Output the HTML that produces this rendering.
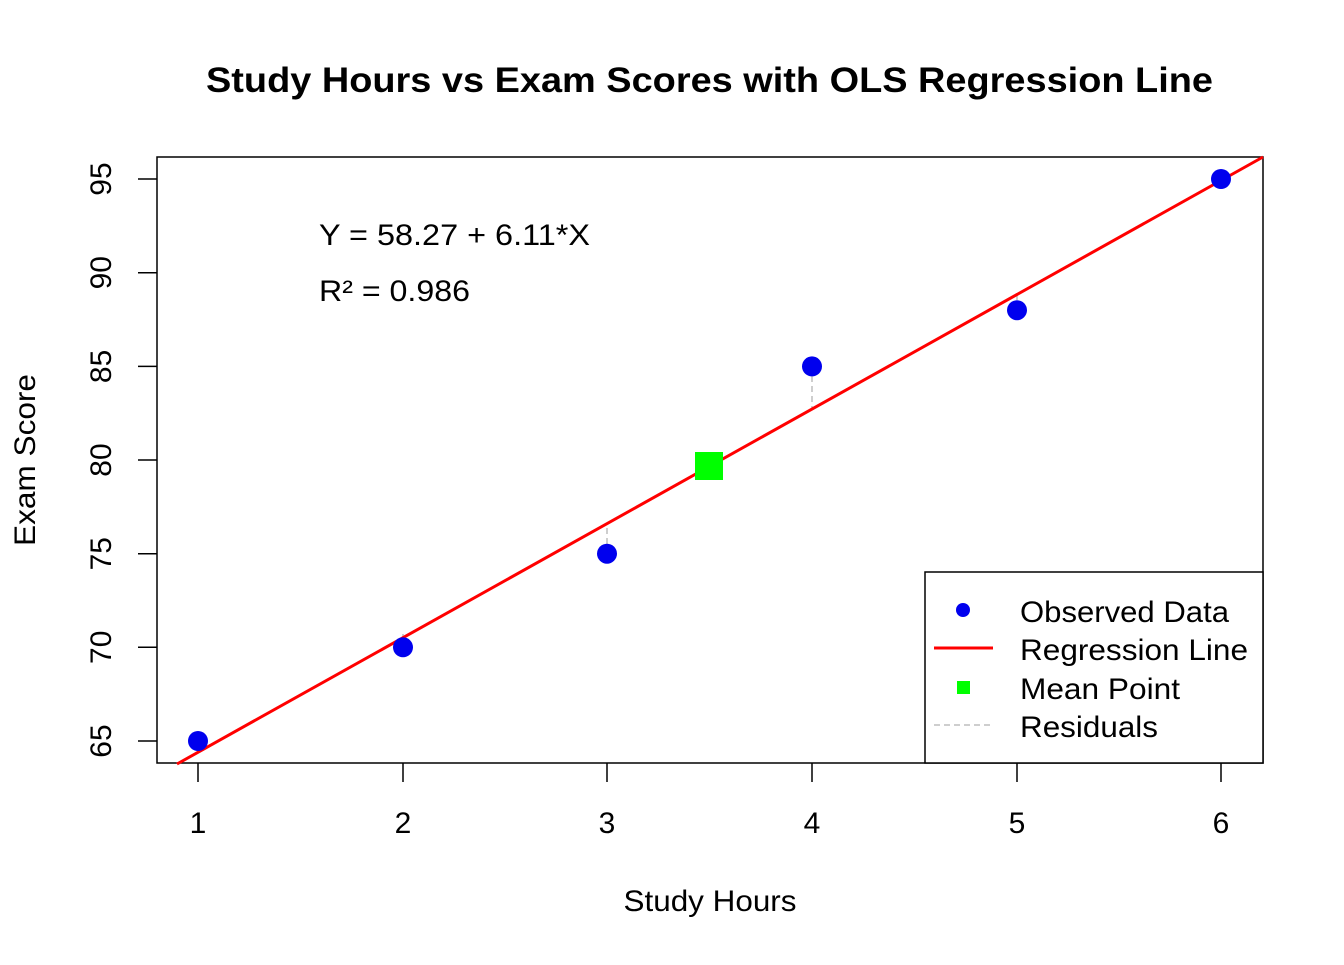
<!DOCTYPE html>
<html><head><meta charset="utf-8"><style>body{margin:0;background:#fff}</style></head><body>
<svg width="1344" height="960" xmlns="http://www.w3.org/2000/svg" font-family="Liberation Sans, Arial, sans-serif">
<rect width="1344" height="960" fill="#fff"/>
<text x="206" y="92" font-size="35" font-weight="bold" textLength="1007" lengthAdjust="spacingAndGlyphs">Study Hours vs Exam Scores with OLS Regression Line</text>
<rect x="157" y="157" width="1106" height="606" fill="none" stroke="#000" stroke-width="1.5"/>
<g stroke="#000" stroke-width="1.5">
<line x1="198" y1="763" x2="198" y2="782"/><line x1="403" y1="763" x2="403" y2="782"/><line x1="607" y1="763" x2="607" y2="782"/><line x1="812" y1="763" x2="812" y2="782"/><line x1="1017" y1="763" x2="1017" y2="782"/><line x1="1221" y1="763" x2="1221" y2="782"/>
<line x1="157" y1="741" x2="138" y2="741"/><line x1="157" y1="647.3" x2="138" y2="647.3"/><line x1="157" y1="553.7" x2="138" y2="553.7"/><line x1="157" y1="460" x2="138" y2="460"/><line x1="157" y1="366.4" x2="138" y2="366.4"/><line x1="157" y1="272.7" x2="138" y2="272.7"/><line x1="157" y1="179" x2="138" y2="179"/>
</g>
<g font-size="30" text-anchor="middle">
<text x="198" y="833">1</text><text x="403" y="833">2</text><text x="607" y="833">3</text><text x="812" y="833">4</text><text x="1017" y="833">5</text><text x="1221" y="833">6</text>
<text x="710" y="911" textLength="173" lengthAdjust="spacingAndGlyphs">Study Hours</text>
</g>
<g font-size="30" text-anchor="middle">
<text transform="translate(111,741) rotate(-90)">65</text>
<text transform="translate(111,647.3) rotate(-90)">70</text>
<text transform="translate(111,553.7) rotate(-90)">75</text>
<text transform="translate(111,460) rotate(-90)">80</text>
<text transform="translate(111,366.4) rotate(-90)">85</text>
<text transform="translate(111,272.7) rotate(-90)">90</text>
<text transform="translate(111,179) rotate(-90)">95</text>
<text transform="translate(35,460) rotate(-90)" textLength="172" lengthAdjust="spacingAndGlyphs">Exam Score</text>
</g>
<g stroke="#bebebe" stroke-width="1.5" stroke-dasharray="6,4">
<line x1="198" y1="741" x2="198" y2="748"/>
<line x1="403" y1="647" x2="403" y2="634"/>
<line x1="607" y1="554" x2="607" y2="528"/>
<line x1="812" y1="366" x2="812" y2="409"/>
<line x1="1017" y1="310" x2="1017" y2="295"/>
</g>
<line x1="177" y1="764" x2="1263" y2="157" stroke="#f00" stroke-width="3"/>
<g fill="#0000ee">
<circle cx="198" cy="741" r="10"/><circle cx="403" cy="647.3" r="10"/><circle cx="607" cy="553.7" r="10"/><circle cx="812" cy="366.4" r="10"/><circle cx="1017" cy="310.2" r="10"/><circle cx="1221" cy="179" r="10"/>
</g>
<rect x="695" y="452" width="28" height="28" fill="#00ff00"/>
<text x="319" y="245" font-size="30" textLength="271" lengthAdjust="spacingAndGlyphs">Y = 58.27 + 6.11*X</text>
<text x="319" y="301" font-size="30" textLength="151" lengthAdjust="spacingAndGlyphs">R² = 0.986</text>
<rect x="925" y="572" width="338" height="191" fill="#fff" stroke="#000" stroke-width="1.5"/>
<circle cx="963" cy="610" r="7" fill="#0000ee"/>
<line x1="934" y1="648" x2="993" y2="648" stroke="#f00" stroke-width="3"/>
<rect x="957" y="681" width="13" height="13" fill="#00ff00"/>
<line x1="934" y1="725" x2="993" y2="725" stroke="#bebebe" stroke-width="1.5" stroke-dasharray="6,4"/>
<g font-size="30">
<text x="1020" y="622" textLength="209" lengthAdjust="spacingAndGlyphs">Observed Data</text>
<text x="1020" y="660" textLength="228" lengthAdjust="spacingAndGlyphs">Regression Line</text>
<text x="1020" y="699" textLength="160" lengthAdjust="spacingAndGlyphs">Mean Point</text>
<text x="1020" y="737" textLength="138" lengthAdjust="spacingAndGlyphs">Residuals</text>
</g>
</svg>
</body></html>
